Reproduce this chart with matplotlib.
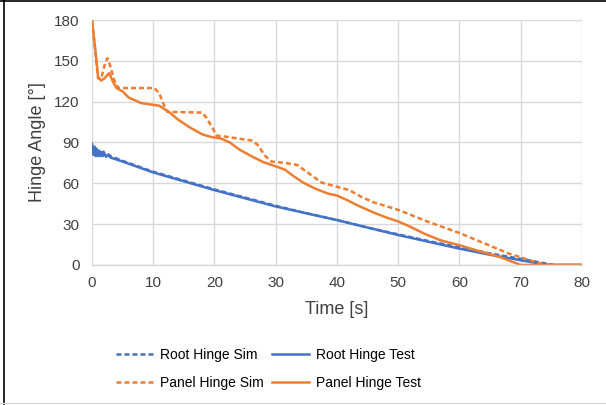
import matplotlib
matplotlib.use("Agg")
import matplotlib.pyplot as plt
from matplotlib.lines import Line2D

plt.rcParams['font.family'] = ['Liberation Sans', 'DejaVu Sans']

# ---- data ----
root_test_t = [0, 0.2, 0.4, 0.6, 0.8, 1.0, 1.2, 1.4, 1.6, 1.8, 2.0, 2.3, 2.6, 3, 5, 10, 15,
               20, 25, 30, 35, 40, 45, 50, 55, 60, 65, 70, 73, 75, 80]
root_test_v = [89, 81, 87, 80, 85, 80, 84, 80, 83, 80, 82, 79.5, 81, 79, 76, 68, 61.5,
               55, 49, 43, 38, 33, 27.5, 22, 17, 12, 7.5, 3.5, 1, 0, 0]

root_sim_t = [0, 0.3, 0.6, 0.9, 1.2, 1.5, 1.8, 2.1, 2.5, 3, 5, 10, 15, 20, 25, 30, 35,
              40, 45, 50, 55, 60, 65, 70, 73, 75.5, 80]
root_sim_v = [88, 83, 86, 82, 85, 81, 84, 81, 82, 80, 76.5, 68.5, 62, 55.5, 49.5, 43.5, 38,
              33, 27.5, 22.5, 17.5, 13, 8.5, 4.5, 2, 0, 0]

panel_test_t = [0, 0.5, 1.0, 1.5, 2.0, 2.8, 3.5, 4.0, 5.0, 6.0, 7.0, 8.0, 9.5, 11.0, 12.7,
                14, 16, 18, 19.5, 21, 22.5, 24, 26, 28, 30, 31.5, 33, 34.5, 36.5, 38.5,
                40, 41.5, 43.5, 46, 48, 50, 52, 54.5, 57, 60, 63, 66.5, 69.3, 70, 80]
panel_test_v = [180, 160, 138, 135.5, 137, 141, 134, 130, 127.5, 123, 121, 119, 118, 117, 112,
                107, 101, 96, 94, 93, 90, 85, 80, 75.5, 72.5, 70, 65, 60.5, 56, 52.5,
                51, 48, 43.5, 38.5, 35, 32, 28, 22.5, 18, 14.5, 10.5, 6, 1.2, 0, 0]

panel_sim_t = [0, 0.5, 1.0, 1.5, 2.0, 2.5, 3.0, 3.6, 4.3, 10.2, 11.0, 11.7, 12.3, 18.0, 18.7,
               19.5, 20.4, 21.5, 26.0, 27.0, 28.3, 29.3, 31.5, 33.5, 35.5, 37.5, 40, 42,
               44, 46, 50, 55, 60, 64, 68, 71.5, 74, 80]
panel_sim_v = [180, 158, 137, 137, 146, 152, 146, 136, 130, 130, 126, 118, 112.5, 112, 108,
               102, 95, 94.5, 91.5, 88.5, 80, 76, 75, 73.5, 67, 60.5, 57.5, 55,
               50, 46, 40.5, 31.5, 23.5, 16, 8.5, 3.5, 0, 0]

x_ticks = [0, 10, 20, 30, 40, 50, 60, 70, 80]
y_ticks = [0, 30, 60, 90, 120, 150, 180]
labels = ["Root Hinge Sim", "Root Hinge Test", "Panel Hinge Sim", "Panel Hinge Test"]

BLUE = "#4472C4"
ORANGE = "#ED7D31"
TXT = "#404040"
GRID = "#D9D9D9"

fig = plt.figure(figsize=(6.06, 4.05), dpi=100)
ax = fig.add_axes([0.1518, 0.3457, 0.8086, 0.6049])

lw = 1.8
dash = (2.0, 1.2)
l_rs, = ax.plot(root_sim_t, root_sim_v, color=BLUE, lw=lw, ls=(0, dash))
l_rt, = ax.plot(root_test_t, root_test_v, color=BLUE, lw=lw)
l_ps, = ax.plot(panel_sim_t, panel_sim_v, color=ORANGE, lw=lw, ls=(0, dash))
l_pt, = ax.plot(panel_test_t, panel_test_v, color=ORANGE, lw=lw)

ax.set_xlim(0, 80)
ax.set_ylim(0, 180)
ax.set_xticks(x_ticks)
ax.set_yticks(y_ticks)
ax.tick_params(axis='both', length=0, labelsize=11, colors=TXT)
ax.tick_params(axis='y', pad=9)
ax.tick_params(axis='x', pad=8)
ax.grid(True, color=GRID, lw=1.0)
ax.set_axisbelow(True)
for s in ['top', 'right', 'left']:
    ax.spines[s].set_visible(False)
ax.spines['bottom'].set_color(GRID)
ax.spines['bottom'].set_linewidth(1.0)

ax.set_xlabel("Time [s]", fontsize=13, color=TXT, labelpad=8)
ax.set_ylabel("Hinge Angle [°]", fontsize=13, color=TXT, labelpad=6)

fig.legend([l_rs, l_ps, l_rt, l_pt],
           [labels[0], labels[2], labels[1], labels[3]],
           ncol=2, loc='center', bbox_to_anchor=(0.443, 0.089),
           frameon=False, fontsize=10, handlelength=2.7, handletextpad=0.45,
           columnspacing=0.6, labelspacing=0.95)

# figure border lines
fig.add_artist(Line2D([0, 1], [0.997, 0.997], transform=fig.transFigure, color='black', lw=1.2))
fig.add_artist(Line2D([0.0066, 0.0066], [0, 1], transform=fig.transFigure, color='black', lw=1.2))
fig.add_artist(Line2D([0, 1], [0.004, 0.004], transform=fig.transFigure, color=GRID, lw=1.0))

fig.savefig("out.png", dpi=100)
